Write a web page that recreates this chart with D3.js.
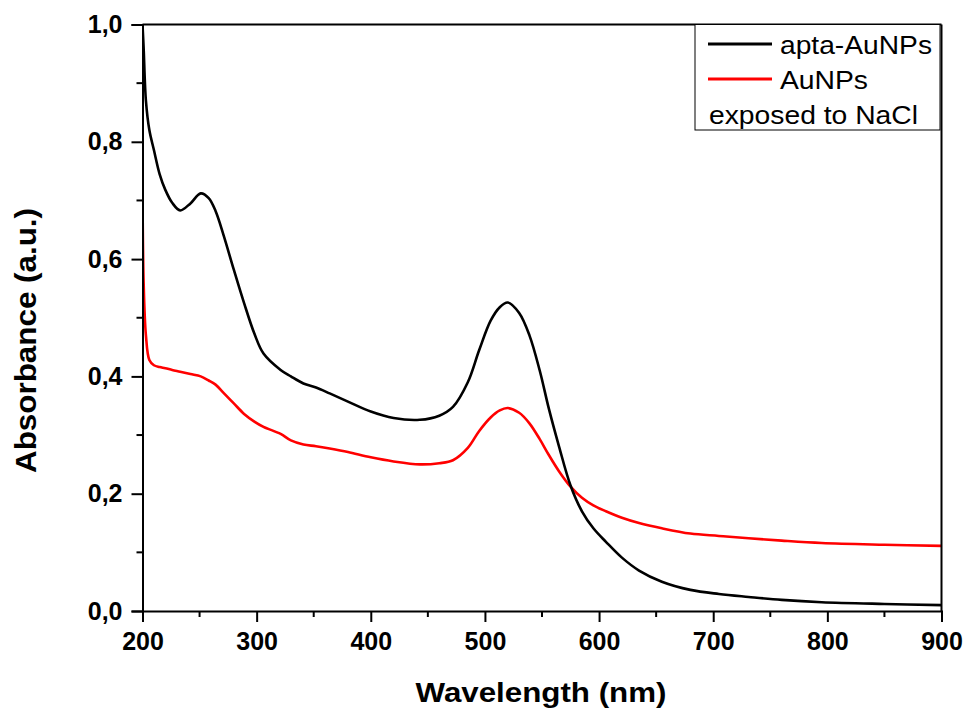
<!DOCTYPE html>
<html>
<head>
<meta charset="utf-8">
<script src="https://cdn.jsdelivr.net/npm/d3@7"></script>
<style>
  html, body { margin: 0; padding: 0; background: #fff; }
  svg { display: block; }
  text { font-family: "Liberation Sans", Arial, sans-serif; }
</style>
</head>
<body>
<svg id="chart" width="965" height="709"></svg>
<script>
// ---- data ----
const wavelengths = [200, 201, 203, 206, 210, 215, 220, 226, 233, 242, 251, 258, 264, 271, 280, 289, 298, 306, 321, 330, 341, 352, 364, 380, 400, 420, 443, 460, 472, 485, 495, 505, 513, 520, 530, 539, 548, 556, 565, 575, 585, 595, 606, 620, 635, 655, 680, 705, 731, 760, 795, 850, 900];
const aptaAuNPs = [1.0, 0.96, 0.87, 0.82, 0.786, 0.745, 0.718, 0.696, 0.683, 0.695, 0.712, 0.704, 0.682, 0.641, 0.582, 0.525, 0.473, 0.439, 0.411, 0.40, 0.388, 0.381, 0.371, 0.357, 0.340, 0.329, 0.326, 0.333, 0.348, 0.39, 0.445, 0.495, 0.518, 0.526, 0.508, 0.47, 0.41, 0.345, 0.28, 0.214, 0.170, 0.141, 0.118, 0.091, 0.069, 0.050, 0.036, 0.029, 0.024, 0.019, 0.015, 0.012, 0.010];
const auNPsNaCl = [0.72, 0.56, 0.47, 0.428, 0.419, 0.416, 0.414, 0.411, 0.408, 0.404, 0.400, 0.393, 0.386, 0.372, 0.354, 0.336, 0.323, 0.314, 0.302, 0.291, 0.284, 0.281, 0.277, 0.271, 0.262, 0.255, 0.250, 0.252, 0.257, 0.278, 0.307, 0.330, 0.342, 0.346, 0.338, 0.320, 0.293, 0.266, 0.238, 0.212, 0.193, 0.180, 0.170, 0.159, 0.150, 0.141, 0.132, 0.128, 0.124, 0.12, 0.116, 0.113, 0.111];
const seriesNames = ["apta-AuNPs", "AuNPs", "exposed to NaCl"];
const seriesColors = ["#000000", "#ff0000"];
const xTicks = [200, 300, 400, 500, 600, 700, 800, 900];
const xMinorTicks = [250, 350, 450, 550, 650, 750, 850];
const yTicks = [0, 0.2, 0.4, 0.6, 0.8, 1.0];
const yMinorTicks = [0.1, 0.3, 0.5, 0.7, 0.9];
const xTitle = "Wavelength (nm)";
const yTitle = "Absorbance (a.u.)";

// ---- layout ----
const L = 142.5, R = 941.5, T = 24.5, B = 611;
const svg = d3.select("#chart");
const x = d3.scaleLinear().domain([200, 900]).range([L, R]);
const y = d3.scaleLinear().domain([0, 1.0]).range([B, T]);
const fmt = v => d3.format(".1f")(v).replace(".", ",");

svg.append("clipPath").attr("id", "clip").append("rect")
  .attr("x", L).attr("y", T - 1).attr("width", R - L).attr("height", B - T + 1);

const line = vals => d3.line()
  .x((d, i) => x(wavelengths[i]))
  .y(d => y(d))
  .curve(d3.curveCatmullRom.alpha(0.5))(vals);

svg.append("path").attr("d", line(auNPsNaCl)).attr("fill", "none")
  .attr("stroke", seriesColors[1]).attr("stroke-width", 2.6).attr("clip-path", "url(#clip)");
svg.append("path").attr("d", line(aptaAuNPs)).attr("fill", "none")
  .attr("stroke", seriesColors[0]).attr("stroke-width", 2.6).attr("clip-path", "url(#clip)");

svg.append("line").attr("x1", L).attr("x2", R).attr("y1", T).attr("y2", T)
  .attr("stroke", "#000").attr("stroke-width", 2);
svg.append("line").attr("x1", R).attr("x2", R).attr("y1", T).attr("y2", B)
  .attr("stroke", "#000").attr("stroke-width", 2);

const gx = svg.append("g").attr("transform", `translate(0,${B})`)
  .call(d3.axisBottom(x).tickValues(xTicks).tickSize(11).tickPadding(10).tickFormat(d3.format("d")));
gx.append("g").selectAll("line").data(xMinorTicks).join("line")
  .attr("x1", d => x(d)).attr("x2", d => x(d)).attr("y1", 0).attr("y2", 6)
  .attr("stroke", "#000").attr("stroke-width", 2);

const gy = svg.append("g").attr("transform", `translate(${L},0)`)
  .call(d3.axisLeft(y).tickValues(yTicks).tickSize(11).tickPadding(9).tickFormat(fmt));
gy.append("g").selectAll("line").data(yMinorTicks).join("line")
  .attr("y1", d => y(d)).attr("y2", d => y(d)).attr("x1", 0).attr("x2", -6)
  .attr("stroke", "#000").attr("stroke-width", 2);

[gx, gy].forEach(g => {
  g.select(".domain").attr("stroke", "#000").attr("stroke-width", 2);
  g.selectAll(".tick line").attr("stroke", "#000").attr("stroke-width", 2);
  g.selectAll(".tick text").attr("font-family", "Liberation Sans, Arial, sans-serif")
    .attr("font-size", 25).attr("font-weight", "bold").attr("fill", "#000");
});
gx.selectAll(".tick text").attr("dy", "0.71em");

svg.append("text").attr("x", 541).attr("y", 702).attr("text-anchor", "middle")
  .attr("font-size", 28).attr("font-weight", "bold")
  .attr("textLength", 251).attr("lengthAdjust", "spacingAndGlyphs").text(xTitle);
svg.append("text").attr("transform", "translate(36,340.5) rotate(-90)").attr("text-anchor", "middle")
  .attr("font-size", 29).attr("font-weight", "bold")
  .attr("textLength", 265).attr("lengthAdjust", "spacingAndGlyphs").text(yTitle);

const lg = svg.append("g");
lg.append("rect").attr("x", 695).attr("y", 24.5).attr("width", 245).attr("height", 105.5)
  .attr("fill", "#fff").attr("stroke", "#000").attr("stroke-width", 1);
const legRows = [
  {name: seriesNames[0], color: seriesColors[0], ly: 44, ty: 54, tl: 152},
  {name: seriesNames[1], color: seriesColors[1], ly: 79, ty: 89, tl: 88}
];
legRows.forEach(r => {
  lg.append("line").attr("x1", 708).attr("x2", 772).attr("y1", r.ly).attr("y2", r.ly)
    .attr("stroke", r.color).attr("stroke-width", 3);
  lg.append("text").attr("x", 780).attr("y", r.ty).attr("font-size", 26)
    .attr("textLength", r.tl).attr("lengthAdjust", "spacingAndGlyphs").text(r.name);
});
lg.append("text").attr("x", 709).attr("y", 124).attr("font-size", 26)
  .attr("textLength", 209).attr("lengthAdjust", "spacingAndGlyphs").text(seriesNames[2]);
</script>
</body>
</html>
